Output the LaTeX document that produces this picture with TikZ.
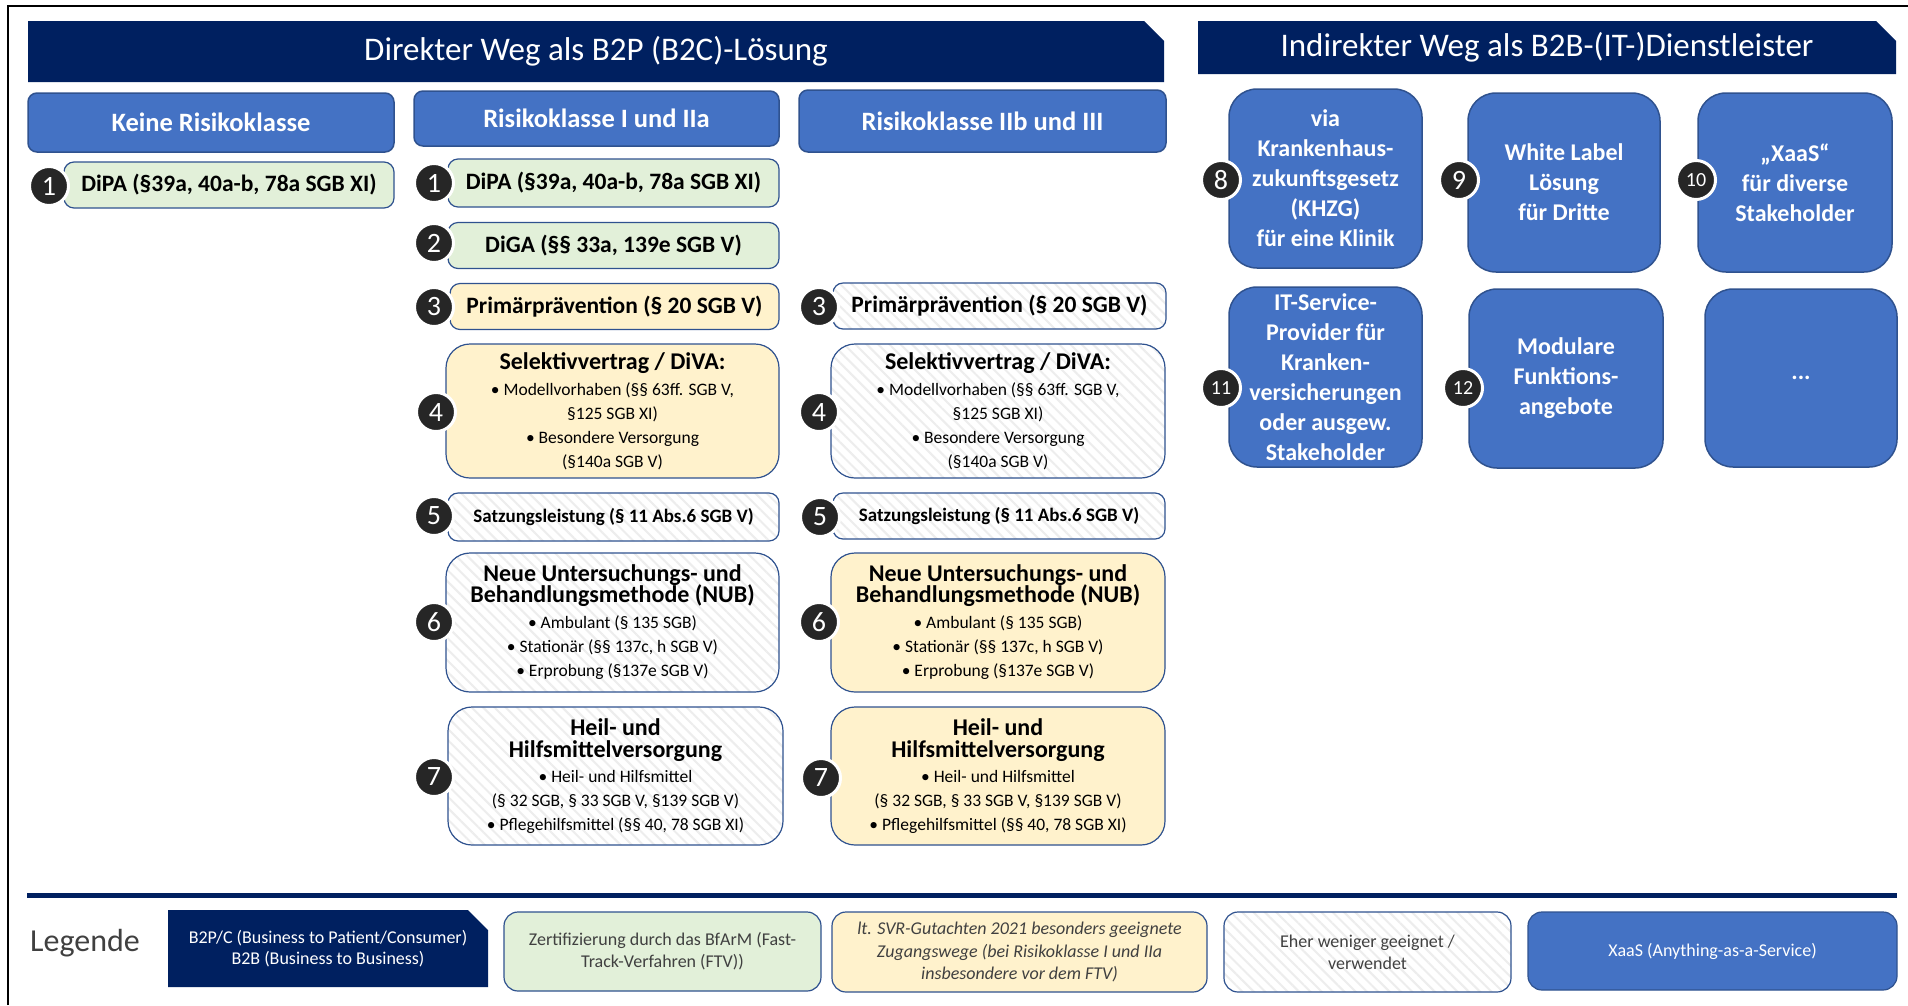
\documentclass[tikz,border=0pt]{standalone}
\usepackage{fontspec}
\setmainfont{Carlito}
\usepackage{tikz}
\usetikzlibrary{shapes.misc}
\usetikzlibrary{patterns.meta}

\definecolor{navy}{HTML}{002060}
\definecolor{boxblue}{HTML}{4472C4}
\definecolor{edgeblue}{HTML}{2F528F}
\definecolor{paleg}{HTML}{E2F0D9}
\definecolor{paley}{HTML}{FFF2CC}
\definecolor{dotgray}{HTML}{262626}
\definecolor{legtext}{HTML}{404040}

\tikzset{
  navybar/.style={chamfered rectangle, chamfered rectangle corners=north east,
    chamfered rectangle xsep=10pt, chamfered rectangle ysep=10pt,
    fill=navy, text=white, inner sep=0pt, font=\fontsize{33}{33}\selectfont},
  colhead/.style={rectangle, rounded corners=9pt, fill=boxblue, draw=edgeblue, line width=1.5pt,
    text=white, inner sep=0pt, font=\bfseries\fontsize{26.5}{27}\selectfont},
  rowbox/.style={rectangle, rounded corners=10pt, draw=edgeblue, line width=1.2pt, inner sep=0pt,
    align=center, minimum height=46pt, font=\bfseries\fontsize{23.5}{24}\selectfont},
  bigbox/.style={rowbox, rounded corners=24pt, font=\fontsize{17.5}{24}\selectfont},
  greenbox/.style={fill=paleg},
  yellowbox/.style={fill=paley},
  hatchbox/.style={preaction={fill=white}, pattern={Lines[angle=-45,distance=8pt,line width=2pt]},
    pattern color=black!7},
  numdot/.style={circle, fill=dotgray, draw=white, line width=3pt, minimum size=39pt, inner sep=0pt,
    text=white, font=\fontsize{28}{28}\selectfont},
  smalldot/.style={numdot, font=\fontsize{20}{20}\selectfont},
  xaasbox/.style={rectangle, rounded corners=28pt, fill=boxblue, draw=edgeblue, line width=1.5pt,
    text=white, inner sep=0pt, align=center, minimum width=193pt, minimum height=179pt,
    font=\bfseries\fontsize{24}{30}\selectfont},
  legbox/.style={rectangle, rounded corners=14pt, draw=edgeblue, line width=1.2pt, inner sep=0pt,
    align=center, minimum height=79pt, text=legtext, font=\fontsize{18}{22}\selectfont}
}
\newcommand{\boxtitle}[1]{{\bfseries\fontsize{24}{24}\selectfont #1}}

\begin{document}
\begin{tikzpicture}[x=1pt, y=-1pt]
  \useasboundingbox (0,0) rectangle (1908,1005);
  \draw[line width=2.5pt] (8,1005) -- (8,6) -- (1908,6);

  % headers
  \node[navybar, minimum width=1136pt, minimum height=61pt] (direkt) at (596,51.5) {Direkter Weg als B2P (B2C)-Lösung};
  \node[navybar, minimum width=698pt, minimum height=53pt] (indirekt) at (1547,47.5) {Indirekter Weg als B2B-(IT-)Dienstleister};

  \node[colhead, minimum width=366pt, minimum height=59pt] (keine) at (211,122.5) {Keine Risikoklasse};
  \node[colhead, minimum width=365pt, minimum height=55pt] (klA) at (596.5,118.5) {Risikoklasse I und IIa};
  \node[colhead, minimum width=367pt, minimum height=62pt] (klB) at (982.5,121) {Risikoklasse IIb und III};

  % keine Risikoklasse
  \node[rowbox, greenbox, minimum width=330pt] (k1) at (229,185) {DiPA (§39a, 40a-b, 78a SGB XI)};
  \node[numdot] (nk1) at (49,186) {1};

  % Risikoklasse I und IIa
  \node[rowbox, greenbox, minimum width=331pt, minimum height=48pt] (a1) at (613.5,183) {DiPA (§39a, 40a-b, 78a SGB XI)};
  \node[numdot] (na1) at (434,183) {1};
  \node[rowbox, greenbox, minimum width=331pt] (a2) at (613.5,245.5) {DiGA (§§ 33a, 139e SGB V)};
  \node[numdot] (na2) at (434,243) {2};
  \node[rowbox, yellowbox, minimum width=329pt] (a3) at (614.5,306.5) {Primärprävention (§ 20 SGB V)};
  \node[numdot] (na3) at (434,307) {3};
  \node[bigbox, yellowbox, minimum width=333pt, minimum height=134pt] (a4) at (612.5,411)
    {\boxtitle{Selektivvertrag / DiVA:}\\[2pt] • Modellvorhaben (§§ 63ff. SGB V,\\ §125 SGB XI)\\ • Besondere Versorgung\\ (§140a SGB V)};
  \node[numdot] (na4) at (436,412) {4};
  \node[rowbox, hatchbox, minimum width=331pt, minimum height=48pt, font=\bfseries\fontsize{19}{20}\selectfont] (a5) at (613.5,517) {Satzungsleistung (§ 11 Abs.6 SGB V)};
  \node[numdot] (na5) at (434,516) {5};
  \node[bigbox, hatchbox, minimum width=333pt, minimum height=139pt] (a6) at (612.5,622.5)
    {\boxtitle{Neue Untersuchungs- und}\\[-3pt] \boxtitle{Behandlungsmethode (NUB)}\\[2pt] • Ambulant (§ 135 SGB)\\ • Stationär (§§ 137c, h SGB V)\\ • Erprobung (§137e SGB V)};
  \node[numdot] (na6) at (434,622) {6};
  \node[bigbox, hatchbox, minimum width=335pt, minimum height=138pt] (a7) at (615.5,776)
    {\boxtitle{Heil- und}\\[-2pt] \boxtitle{Hilfsmittelversorgung}\\[1pt] • Heil- und Hilfsmittel\\ (§ 32 SGB, § 33 SGB V, §139 SGB V)\\ • Pflegehilfsmittel (§§ 40, 78 SGB XI)};
  \node[numdot] (na7) at (434,777) {7};

  % Risikoklasse IIb und III
  \node[rowbox, hatchbox, minimum width=333pt] (b3) at (999.5,306) {Primärprävention (§ 20 SGB V)};
  \node[numdot] (nb3) at (819,307) {3};
  \node[bigbox, hatchbox, minimum width=334pt, minimum height=134pt] (b4) at (998,411)
    {\boxtitle{Selektivvertrag / DiVA:}\\[2pt] • Modellvorhaben (§§ 63ff. SGB V,\\ §125 SGB XI)\\ • Besondere Versorgung\\ (§140a SGB V)};
  \node[numdot] (nb4) at (819,412) {4};
  \node[rowbox, hatchbox, minimum width=332pt, font=\bfseries\fontsize{19}{20}\selectfont] (b5) at (999,516) {Satzungsleistung (§ 11 Abs.6 SGB V)};
  \node[numdot] (nb5) at (820,517) {5};
  \node[bigbox, yellowbox, minimum width=334pt, minimum height=139pt] (b6) at (998,622.5)
    {\boxtitle{Neue Untersuchungs- und}\\[-3pt] \boxtitle{Behandlungsmethode (NUB)}\\[2pt] • Ambulant (§ 135 SGB)\\ • Stationär (§§ 137c, h SGB V)\\ • Erprobung (§137e SGB V)};
  \node[numdot] (nb6) at (819,622) {6};
  \node[bigbox, yellowbox, minimum width=334pt, minimum height=138pt] (b7) at (998,776)
    {\boxtitle{Heil- und}\\[-2pt] \boxtitle{Hilfsmittelversorgung}\\[1pt] • Heil- und Hilfsmittel\\ (§ 32 SGB, § 33 SGB V, §139 SGB V)\\ • Pflegehilfsmittel (§§ 40, 78 SGB XI)};
  \node[numdot] (nb7) at (821,778) {7};

  % B2B
  \node[xaasbox] (khzg) at (1325.5,178.5) {via\\ Krankenhaus-\\ zukunftsgesetz\\ (KHZG)\\ für eine Klinik};
  \node[numdot] (n8) at (1221,180) {8};
  \node[xaasbox, minimum width=192pt] (label) at (1564,182.5) {White Label\\ Lösung\\ für Dritte};
  \node[numdot] (n9) at (1459,180) {9};
  \node[xaasbox, minimum width=194pt] (xaas) at (1795,182.5) {„XaaS“\\ für diverse\\ Stakeholder};
  \node[smalldot] (n10) at (1696,180) {10};
  \node[xaasbox, minimum height=180pt] (itsp) at (1325.5,377) {IT-Service-\\ Provider für\\ Kranken-\\ versicherungen\\ oder ausgew.\\ Stakeholder};
  \node[smalldot] (n11) at (1221,388) {11};
  \node[xaasbox, minimum width=194pt] (modul) at (1566,378.5) {Modulare\\ Funktions-\\ angebote};
  \node[smalldot] (n12) at (1463,388) {12};
  \node[xaasbox, minimum width=192pt, minimum height=178pt] (more) at (1801,378) {...};

  % Legende
  \draw[navy, line width=5pt] (27,895) -- (1897,895);
  \node[text=legtext, font=\fontsize{32}{32}\selectfont] (legende) at (85,943) {Legende};
  \node[navybar, minimum width=320pt, minimum height=77pt, align=center, font=\fontsize{18}{21}\selectfont] (legA) at (328,948.5)
    {B2P/C (Business to Patient/Consumer)\\ B2B (Business to Business)};
  \node[legbox, greenbox, minimum width=317pt] (legB) at (662.5,951.5) {Zertifizierung durch das BfArM (Fast-\\ Track-Verfahren (FTV))};
  \node[legbox, yellowbox, minimum width=375pt, minimum height=80pt, font=\itshape\fontsize{18}{22.5}\selectfont] (legC) at (1019.5,952)
    {lt. SVR-Gutachten 2021 besonders geeignete\\ Zugangswege (bei Risikoklasse I und IIa\\ insbesondere vor dem FTV)};
  \node[legbox, hatchbox, minimum width=287pt, minimum height=80pt] (legD) at (1367.5,952) {Eher weniger geeignet /\\ verwendet};
  \node[legbox, fill=boxblue, text=white, minimum width=369pt, minimum height=78pt] (legE) at (1712.5,951) {XaaS (Anything-as-a-Service)};
\end{tikzpicture}
\end{document}
